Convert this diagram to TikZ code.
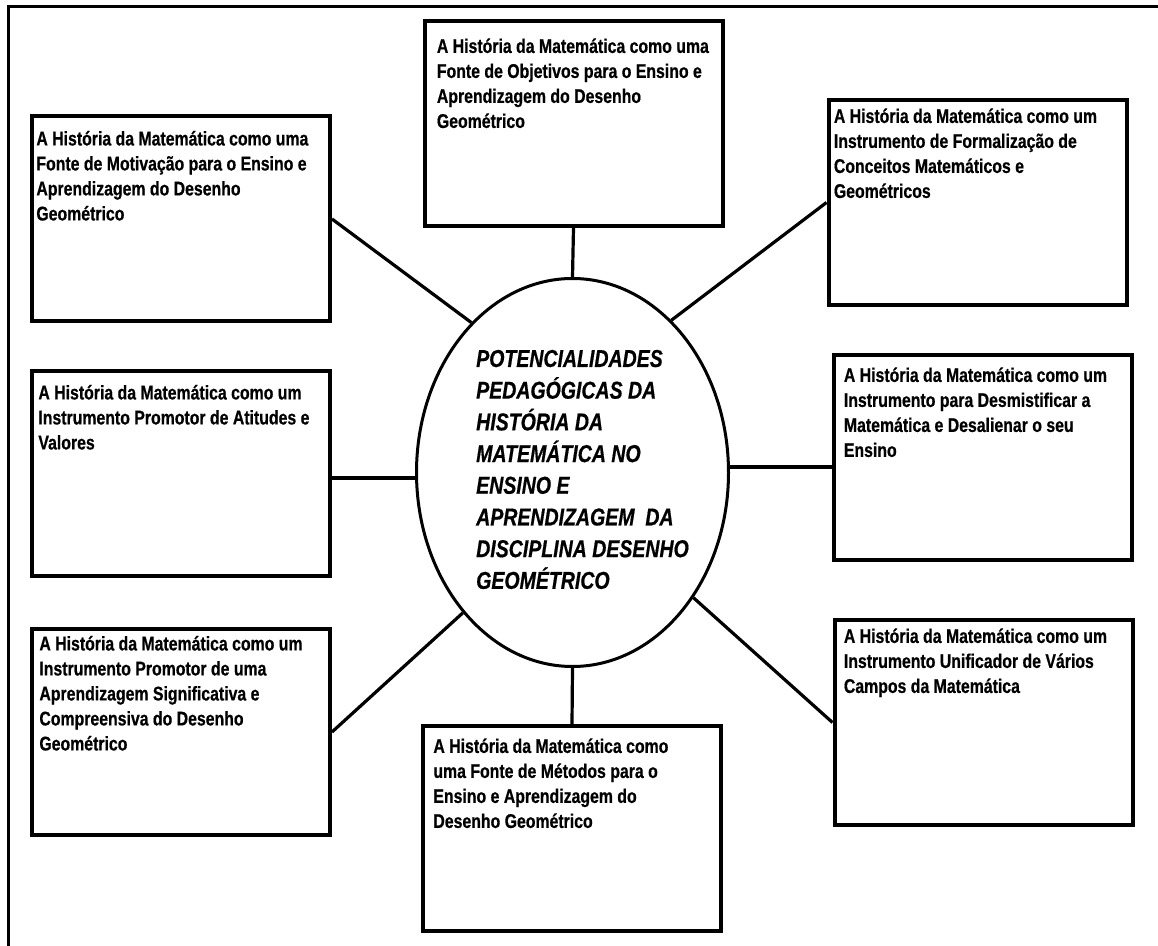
\documentclass[tikz,border=0pt]{standalone}
\usepackage{fontspec}
\usepackage{tikz}
\usetikzlibrary{positioning,shapes.geometric}
\newfontfamily\caixafont[FakeStretch=0.8,FakeBold=0.6]{Liberation Sans}

\begin{document}
\begin{tikzpicture}[x=0.5pt, y=-0.5pt,
		caixa/.style={draw, line width=2pt, minimum width=149pt, minimum height=102.5pt, inner sep=0pt},
		texto/.style={inner sep=0pt, align=left, font=\caixafont\bfseries\fontsize{9.9}{12.5}\selectfont},
		ligacao/.style={line width=1.6pt}]
		\useasboundingbox (0,0) rectangle (1158,946);

		% moldura
		\draw[line width=1.5pt] (8,946) -- (8,6.5) -- (1158,6.5);

		% elipse central
		\node[draw, ellipse, line width=1.5pt, minimum width=156pt, minimum height=194pt, inner sep=0pt] (centro) at (572.5,472.5) {};
		\node[inner sep=0pt, align=left, font=\caixafont\bfseries\itshape\fontsize{12.2}{15.85}\selectfont,
			xshift=5pt, yshift=1.5pt] (titulo) at (centro.center)
			{POTENCIALIDADES\\PEDAGÓGICAS DA\\HISTÓRIA DA\\MATEMÁTICA NO\\ENSINO E\\APRENDIZAGEM\ \ DA\\DISCIPLINA DESENHO\\GEOMÉTRICO};

		% caixas
		\node[caixa] (motivacao) at (181,219) {};
		\node[caixa] (objetivos) at (573.5,123.5) {};
		\node[caixa] (formalizacao) at (977.5,202.5) {};
		\node[caixa] (atitudes) at (181,474) {};
		\node[caixa] (desmistificar) at (982.5,457.5) {};
		\node[caixa] (significativa) at (181,732) {};
		\node[caixa] (metodos) at (572,828.5) {};
		\node[caixa] (unificador) at (983.5,722.5) {};

		\node[texto, below right=8pt and 3pt of motivacao.north west] (tmotivacao)
			{A História da Matemática como uma\\Fonte de Motivação para o Ensino e\\Aprendizagem do Desenho\\Geométrico};
		\node[texto, below right=9.5pt and 7pt of objetivos.north west] (tobjetivos)
			{A História da Matemática como uma\\Fonte de Objetivos para o Ensino e\\Aprendizagem do Desenho\\Geométrico};
		\node[texto, below right=5pt and 3.5pt of formalizacao.north west] (tformalizacao)
			{A História da Matemática como um\\Instrumento de Formalização de\\Conceitos Matemáticos e\\Geométricos};
		\node[texto, below right=7.5pt and 4pt of atitudes.north west] (tatitudes)
			{A História da Matemática como um\\Instrumento Promotor de Atitudes e\\Valores};
		\node[texto, below right=7pt and 6pt of desmistificar.north west] (tdesmistificar)
			{A História da Matemática como um\\Instrumento para Desmistificar a\\Matemática e Desalienar o seu\\Ensino};
		\node[texto, below right=4pt and 4.5pt of significativa.north west] (tsignificativa)
			{A História da Matemática como um\\Instrumento Promotor de uma\\Aprendizagem Significativa e\\Compreensiva do Desenho\\Geométrico};
		\node[texto, below right=7pt and 6pt of metodos.north west] (tmetodos)
			{A História da Matemática como\\uma Fonte de Métodos para o\\Ensino e Aprendizagem do\\Desenho Geométrico};
		\node[texto, below right=5pt and 5.5pt of unificador.north west] (tunificador)
			{A História da Matemática como um\\Instrumento Unificador de Vários\\Campos da Matemática};

		% ligações
		\draw[ligacao] (objetivos.south) -- (centro.north);
		\draw[ligacao] (metodos.north) -- (centro.south);
		\draw[ligacao] (motivacao.east) -- (centro.124);
		\draw[ligacao] (formalizacao.west) -- (centro.57);
		\draw[ligacao] (centro.182) -- (centro.182 -| atitudes.east);
		\draw[ligacao] (centro.2) -- (centro.2 -| desmistificar.west);
		\draw[ligacao] (significativa.east) -- (centro.232);
		\draw[ligacao] (unificador.west) -- (centro.314);
	\end{tikzpicture}
\end{document}
